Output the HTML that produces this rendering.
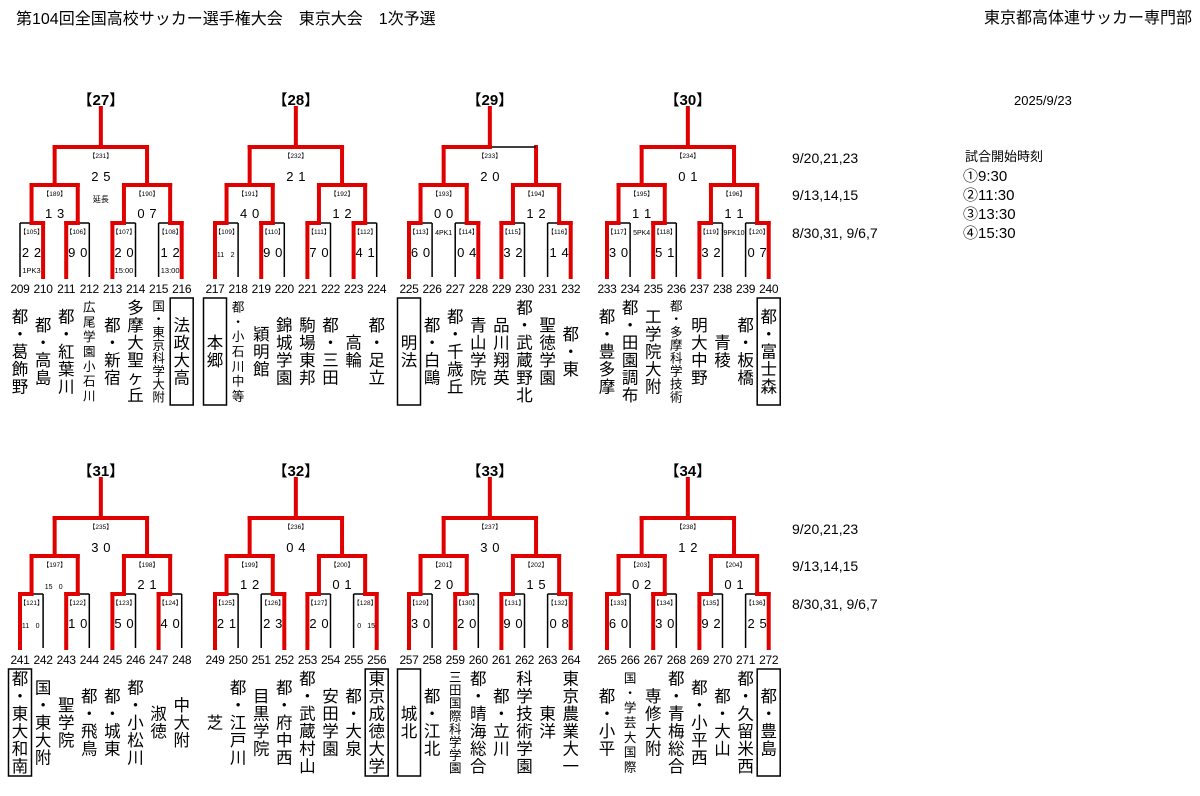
<!DOCTYPE html>
<html><head><meta charset="utf-8">
<style>
html,body{margin:0;padding:0;background:#fff;}
svg{display:block;font-family:"Liberation Sans","Noto Sans CJK JP",sans-serif;}
</style></head>
<body>
<svg id="s" width="1200" height="796" viewBox="0 0 1200 796" xmlns="http://www.w3.org/2000/svg">
<text x="16" y="24" font-size="16" font-family="Liberation Sans, Noto Sans CJK JP, sans-serif">第104回全国高校サッカー選手権大会　東京大会　1次予選</text>
<text x="1192" y="23" font-size="16" text-anchor="end" font-family="Liberation Sans, Noto Sans CJK JP, sans-serif">東京都高体連サッカー専門部</text>
<text x="1014" y="105" font-size="13">2025/9/23</text>
<g font-size="14">
<text x="792" y="163">9/20,21,23</text>
<text x="792" y="200">9/13,14,15</text>
<text x="792" y="238">8/30,31, 9/6,7</text>
<text x="792" y="534">9/20,21,23</text>
<text x="792" y="571">9/13,14,15</text>
<text x="792" y="609">8/30,31, 9/6,7</text>
</g>
<g font-size="13" font-family="Liberation Sans, Noto Sans CJK JP, sans-serif">
<text x="965" y="161">試合開始時刻</text>
<text x="963" y="181" font-size="15">①9:30</text>
<text x="963" y="200" font-size="15">②11:30</text>
<text x="963" y="219" font-size="15">③13:30</text>
<text x="963" y="238" font-size="15">④15:30</text>
</g>
<g id="g"></g>
</svg>
<script>
var NS="http://www.w3.org/2000/svg",G=document.getElementById("g");
function el(t,a,txt){var e=document.createElementNS(NS,t);for(var k in a)e.setAttribute(k,a[k]);if(txt!=null)e.textContent=txt;G.appendChild(e);return e;}
var RED="#e00000";
function line(x1,y1,x2,y2,red){el("line",{x1:x1,y1:y1,x2:x2,y2:y2,stroke:red?RED:"#000","stroke-width":red?4:1.5,"stroke-linecap":red?"square":"butt"});}
function txt(x,y,s,fs,opt){var a={x:x,y:y,"font-size":fs,"text-anchor":"middle"};if(opt)for(var k in opt)a[k]=opt[k];el("text",a,s);}
var B=[
{t:"27",X0:20,dy:0,start:209,w:[1,2,4,7],top:["231","2","5"],r2:[["189","1","3"],["190","0","7"]],
 r1:[["105","2","2","1PK3"],["106","9","0"],["107","2","0","15:00"],["108","1","2","13:00"]],note:"延長",
 names:["都・葛飾野","都・高島","都・紅葉川","広尾学園小石川","都・新宿","多摩大聖ヶ丘","国・東京科学大附","法政大高"],box:[7],small:[3,6]},
{t:"28",X0:215,dy:0,start:217,w:[0,2,4,6],top:["232","2","1"],r2:[["191","4","0"],["192","1","2"]],
 r1:[["109","11","2",null,1],["110","9","0"],["111","7","0"],["112","4","1"]],
 names:["本郷","都・小石川中等","穎明館","錦城学園","駒場東邦","都・三田","高輪","都・足立"],box:[0],small:[1]},
{t:"29",X0:409,dy:0,start:225,w:[0,3,4,7],top:["233","2","0"],r2:[["193","0","0"],["194","1","2"]],topRightBlack:1,
 r1:[["113","6","0"],["114","0","4"],["115","3","2"],["116","1","4"]],gaps:[[0,"4PK1"]],
 names:["明法","都・白鷗","都・千歳丘","青山学院","品川翔英","都・武蔵野北","聖徳学園","都・東"],box:[0],small:[]},
{t:"30",X0:607,dy:0,start:233,w:[0,2,4,7],top:["234","0","1"],r2:[["195","1","1"],["196","1","1"]],
 r1:[["117","3","0"],["118","5","1"],["119","3","2"],["120","0","7"]],gaps:[[0,"5PK4"],[2,"9PK10"]],
 names:["都・豊多摩","都・田園調布","工学院大附","都・多摩科学技術","明大中野","青稜","都・板橋","都・富士森"],box:[7],small:[3]},
{t:"31",X0:20,dy:371,start:241,w:[0,2,4,6],top:["235","3","0"],r2:[["197","15","0",1],["198","2","1"]],
 r1:[["121","11","0",null,1],["122","1","0"],["123","5","0"],["124","4","0"]],
 names:["都・東大和南","国・東大附","聖学院","都・飛鳥","都・城東","都・小松川","淑徳","中大附"],box:[0],small:[]},
{t:"32",X0:215,dy:371,start:249,w:[0,3,4,7],top:["236","0","4"],r2:[["199","1","2"],["200","0","1"]],
 r1:[["125","2","1"],["126","2","3"],["127","2","0"],["128","0","15",null,1]],
 names:["芝","都・江戸川","目黒学院","都・府中西","都・武蔵村山","安田学園","都・大泉","東京成徳大学"],box:[7],small:[]},
{t:"33",X0:409,dy:371,start:257,w:[0,2,4,7],top:["237","3","0"],r2:[["201","2","0"],["202","1","5"]],
 r1:[["129","3","0"],["130","2","0"],["131","9","0"],["132","0","8"]],
 names:["城北","都・江北","三田国際科学学園","都・晴海総合","都・立川","科学技術学園","東洋","東京農業大一"],box:[0],small:[2]},
{t:"34",X0:607,dy:371,start:265,w:[0,2,4,7],top:["238","1","2"],r2:[["203","0","2"],["204","0","1"]],
 r1:[["133","6","0"],["134","3","0"],["135","9","2"],["136","2","5"]],
 names:["都・小平","国・学芸大国際","専修大附","都・青梅総合","都・小平西","都・大山","都・久留米西","都・豊島"],box:[7],small:[1]}
];
var SP=23.1;
B.forEach(function(b){
 var d=b.dy,xs=[],m1=[],m2=[];
 for(var i=0;i<8;i++)xs.push(b.X0+i*SP);
 for(var j=0;j<4;j++)m1.push((xs[2*j]+xs[2*j+1])/2);
 for(var k=0;k<2;k++)m2.push((m1[2*k]+m1[2*k+1])/2);
 var tm=(m2[0]+m2[1])/2;
 var yT=147+d,y2=185+d,y1=223+d,yL=277+d;
 for(var i=0;i<8;i++){var red=b.w.indexOf(i)>=0;if(!red)line(xs[i],y1,xs[i],yL,false);}
 for(var j=0;j<4;j++)line(xs[2*j],y1,xs[2*j+1],y1,false);
 for(var i=0;i<8;i++){if(b.w.indexOf(i)>=0){line(xs[i],y1,xs[i],yL,true);var j=Math.floor(i/2);line(m1[j],y1,xs[i],y1,true);}}
 for(var j=0;j<4;j++)line(m1[j],y2,m1[j],y1,true);
 for(var k=0;k<2;k++)line(m1[2*k],y2,m1[2*k+1],y2,true);
 for(var k=0;k<2;k++)line(m2[k],yT,m2[k],y2,true);
 line(m2[0],yT,tm,yT,true);
 if(b.topRightBlack){line(tm,yT,m2[1],yT,false);}else line(tm,yT,m2[1],yT,true);
 line(tm,108+d,tm,yT,true);
 txt(tm,105+d,"【"+b.t+"】",15,{"font-weight":"bold","font-family":"Liberation Sans, Noto Sans CJK JP, sans-serif"});
 function lab(x,y,s){txt(x,y,"【"+s+"】",6.5,{"font-family":"Liberation Sans, Noto Sans CJK JP, sans-serif"});}
 function sc(x,y,a,c,small){var fs=small?7:13;txt(x-6,y,a,fs);txt(x+6,y,c,fs);}
 lab(tm,158+d,b.top[0]);sc(tm,181+d,b.top[1],b.top[2]);
 if(b.note)txt(tm,202+d,b.note,8,{"font-family":"Liberation Sans, Noto Sans CJK JP, sans-serif"});
 for(var k=0;k<2;k++){var r=b.r2[k];lab(m2[k],196+d,r[0]);sc(m2[k],218+d,r[1],r[2],r[3]);}
 for(var j=0;j<4;j++){var r=b.r1[j];lab(m1[j],234+d,r[0]);sc(m1[j],257+d,r[1],r[2],r[4]);if(r[3])txt(m1[j],273+d,r[3],7.5);}
 (b.gaps||[]).forEach(function(g){txt((xs[2*g[0]+1]+xs[2*g[0]+2])/2,235+d,g[1],7);});
 for(var i=0;i<8;i++)txt(xs[i],293+d,String(b.start+i),12,{"letter-spacing":"-0.3"});
 for(var i=0;i<8;i++){
  var n=Array.from(b.names[i]),sm=b.small.indexOf(i)>=0;
  var fs=sm?12.5:16.5,step=sm?Math.min(15,104/n.length):17.5;
  var h=n.length*step,top0=351.5+d-h/2;
  n.forEach(function(ch,q){txt(xs[i],top0+q*step+step*0.5+fs*0.36,ch,fs,{"font-family":"Liberation Sans, Noto Sans CJK JP, sans-serif"});});
  if(b.box.indexOf(i)>=0)el("rect",{x:xs[i]-11.5,y:298+d,width:23,height:107,fill:"none",stroke:"#000","stroke-width":1.5});
 }
});
</script>
</body></html>
